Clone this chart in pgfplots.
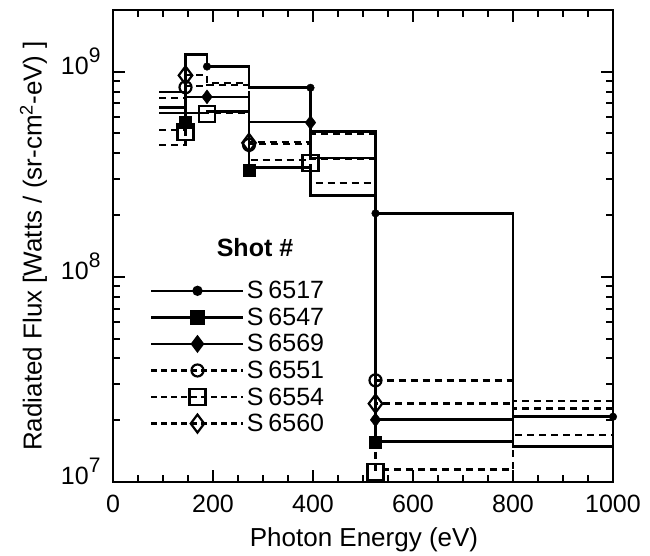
\documentclass[border=0pt]{standalone}
\usepackage{fontspec}
\setmainfont{Liberation Sans}
\usepackage{pgfplots}
\pgfplotsset{compat=1.18}
\newcommand{\bigf}{\fontsize{25}{29}\selectfont}
\newcommand{\tenexp}[1]{10\raisebox{12pt}{\fontsize{21}{21}\selectfont #1}}
\begin{document}
\begin{tikzpicture}
\useasboundingbox (-113pt,-74pt) rectangle (537pt,482pt);
\begin{axis}[
  width=500pt, height=472pt, scale only axis,
  xmin=0, xmax=1000, ymin=1e7, ymax=2e9, ymode=log,
  axis line style={line width=2.6pt},
  every tick/.style={line width=2pt, black},
  major tick length=12pt, minor tick length=7pt,
  xtick={0,200,400,600,800,1000}, minor x tick num=3,
  ytick={1e7,1e8,1e9},
  yticklabels={\tenexp{7},\tenexp{8},\tenexp{9}},
  /pgf/number format/assume math mode=true,
  /pgf/number format/1000 sep={},
  tick label style={font=\bigf},
  xticklabel style={anchor=base, yshift=-31pt},
  yticklabel style={anchor=base east, yshift=-3pt, xshift=-9pt},
  xlabel={Photon Energy (eV)},
  ylabel={Radiated Flux [Watts / (sr-cm\textsuperscript{2}-eV) ]},
  xlabel style={font=\fontsize{26}{30}\selectfont, at={(axis description cs:0.502,0)}, anchor=base, yshift=-65pt},
  ylabel style={font=\fontsize{26}{30}\selectfont, at={(axis description cs:-0.159,0.5)}, anchor=center},
  legend image code/.code={\draw[mark repeat=2,mark phase=2,#1] plot coordinates {(0pt,0pt) (46pt,0pt) (92pt,0pt)};},
  legend style={at={(rel axis cs:0.068,0.434)}, anchor=north west, draw=none, fill=none,
    font=\bigf, row sep=3.6pt, cells={anchor=west}},
  solidln/.style={black, line width=2.6pt, const plot, mark=none},
  dashln/.style={black, line width=2.4pt, const plot, mark=none, dash pattern=on 7pt off 5pt},
  m6517/.style={mark=*, mark size=3.8pt, mark options={solid, fill=black}},
  m6547/.style={mark=square*, mark size=6pt, mark options={solid, fill=black}},
  m6569/.style={mark=diamond*, mark size=7pt, mark options={solid, fill=black}},
  m6551/.style={mark=o, mark size=6pt, mark options={solid, fill=white, line width=2.2pt}},
  m6554/.style={mark=square, mark size=8pt, mark options={solid, fill=white, line width=2.2pt}},
  m6560/.style={mark=diamond, mark size=9pt, mark options={solid, fill=white, line width=2.2pt}},
]
% step lines
\addplot[solidln, forget plot] coordinates {(92,7.98e8) (145,1.21e9) (188,1.06e9) (272,8.35e8) (395,5.1e8) (525,2.04e8) (800,2.08e7) (1000,2.08e7)};
\addplot[solidln, forget plot] coordinates {(92,6.3e8) (145,6.3e8) (188,6.4e8) (272,3.42e8) (395,2.5e8) (525,1.57e7) (800,1.48e7) (1000,1.48e7)};
\addplot[solidln, forget plot] coordinates {(92,6.67e8) (145,7.54e8) (188,7.54e8) (272,5.69e8) (395,3.8e8) (525,2.01e7) (800,1.50e7) (1000,1.50e7)};
\addplot[dashln, forget plot] coordinates {(92,4.38e8) (145,8.5e8) (188,8.6e8) (272,4.54e8) (395,5.0e8) (525,3.13e7) (800,2.49e7) (1000,2.49e7)};
\addplot[dashln, forget plot] coordinates {(92,5.2e8) (145,6.3e8) (188,6.3e8) (272,3.71e8) (395,3.78e8) (525,1.15e7) (800,1.70e7) (1000,1.70e7)};
\addplot[dashln, forget plot] coordinates {(92,7.47e8) (145,9.66e8) (188,8.8e8) (272,4.45e8) (395,2.86e8) (525,2.41e7) (800,2.28e7) (1000,2.28e7)};
% marks
\addplot[only marks, m6554, forget plot] coordinates {(145,5.1e8) (188,6.2e8) (395,3.6e8) (525,1.12e7)};
\addplot[only marks, m6560, forget plot] coordinates {(145,9.6e8) (272,4.5e8) (525,2.41e7)};
\addplot[only marks, m6551, forget plot] coordinates {(145,8.4e8) (272,4.4e8) (525,3.13e7)};
\addplot[only marks, m6547, forget plot] coordinates {(145,5.7e8) (272,3.3e8) (525,1.57e7)};
\addplot[only marks, m6569, forget plot] coordinates {(188,7.54e8) (395,5.65e8) (525,2.01e7)};
\addplot[only marks, m6517, forget plot] coordinates {(188,1.06e9) (395,8.35e8) (525,2.04e8) (1000,2.08e7)};
% legend
\addlegendimage{black, line width=2.6pt, m6517}\addlegendentry{S\hspace{5pt}6517}
\addlegendimage{black, line width=2.6pt, m6547}\addlegendentry{S\hspace{5pt}6547}
\addlegendimage{black, line width=2.6pt, m6569}\addlegendentry{S\hspace{5pt}6569}
\addlegendimage{black, line width=2.2pt, dash pattern=on 6pt off 4pt, m6551}\addlegendentry{S\hspace{5pt}6551}
\addlegendimage{black, line width=2.2pt, dash pattern=on 6pt off 4pt, m6554}\addlegendentry{S\hspace{5pt}6554}
\addlegendimage{black, line width=2.2pt, dash pattern=on 6pt off 4pt, m6560}\addlegendentry{S\hspace{5pt}6560}
\node[font=\bfseries\bigf] at (rel axis cs:0.284,0.496) {Shot \#};
\end{axis}
\end{tikzpicture}
\end{document}
